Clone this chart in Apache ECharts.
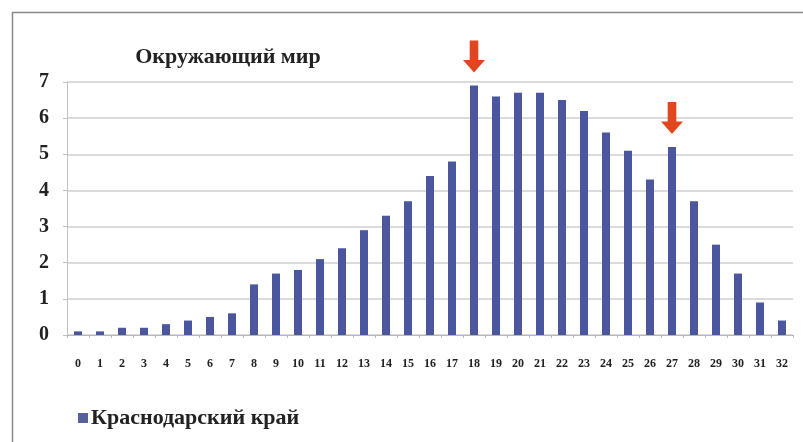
<!DOCTYPE html>
<html>
<head>
<meta charset="utf-8">
<script src="https://cdn.jsdelivr.net/npm/echarts@6/dist/echarts.min.js"></script>
<style>html,body{margin:0;padding:0;background:#fff}#c{width:803px;height:442px}</style>
</head>
<body>
<div id="c"></div>
<script>
var titleText = 'Окружающий мир';
var seriesName = 'Краснодарский край';
var categories = ['0','1','2','3','4','5','6','7','8','9','10','11','12','13','14','15','16','17','18','19','20','21','22','23','24','25','26','27','28','29','30','31','32'];
var values = [0.1,0.1,0.2,0.2,0.3,0.4,0.5,0.6,1.4,1.7,1.8,2.1,2.4,2.9,3.3,3.7,4.4,4.8,6.9,6.6,6.7,6.7,6.5,6.2,5.6,5.1,4.3,5.2,3.7,2.5,1.7,0.9,0.4];
var arrowIndices = [18, 27];
var yTicks = [0,1,2,3,4,5,6,7];

var FONT = '"Liberation Serif","Times New Roman",serif';
var chart = echarts.init(document.getElementById('c'), null, {renderer:'canvas'});
chart.setOption({
  backgroundColor: '#ffffff',
  animation: false,
  title: {
    text: titleText,
    left: 223, top: 41, textAlign: 'center',
    textStyle: {fontFamily: FONT, fontWeight: 'bold', fontSize: 22, color: '#222'}
  },
  legend: {
    left: 73, top: 402,
    itemWidth: 10, itemHeight: 10, itemGap: 4,
    icon: 'rect',
    data: [{name: seriesName, itemStyle: {color: '#56609a'}}],
    textStyle: {fontFamily: FONT, fontWeight: 'bold', fontSize: 22, color: '#222', padding: [0,0,0,-2]}
  },
  grid: {left: 67, right: 10, top: 82, bottom: 107},
  xAxis: {
    type: 'category',
    data: categories,
    axisLine: {lineStyle: {color: '#b8b8b8', width: 1}},
    axisTick: {show: true, length: 3, lineStyle: {color: '#b8b8b8'}},
    axisLabel: {interval: 0, margin: 23, fontFamily: FONT, fontWeight: 'bold', fontSize: 12, color: '#222'}
  },
  yAxis: {
    type: 'value',
    min: yTicks[0], max: yTicks[yTicks.length-1], interval: 1,
    axisLine: {show: true, lineStyle: {color: '#c0c0c0'}},
    axisTick: {show: true, length: 4, lineStyle: {color: '#c0c0c0'}},
    splitLine: {lineStyle: {color: '#cfcfcf', width: 1.5}},
    axisLabel: {margin: 18, fontFamily: FONT, fontWeight: 'bold', fontSize: 20, color: '#222'}
  },
  series: [{
    name: seriesName,
    type: 'bar',
    data: values,
    barWidth: 8,
    itemStyle: {color: '#4a569e'},
    markPoint: {
      symbol: 'path://M7,0 L16,0 L16,20 L23,20 L11.5,33 L0,20 L7,20 Z',
      symbolSize: [22, 32],
      symbolOffset: [0, -29],
      symbolKeepAspect: false,
      itemStyle: {color: '#e2461f'},
      label: {show: false},
      data: arrowIndices.map(function(i){ return {coord: [categories[i], values[i]]}; })
    }
  }],
  graphic: [
    {type: 'line', shape: {x1: 12, y1: 12.5, x2: 803, y2: 12.5}, style: {stroke: '#8a8a8a', lineWidth: 1.5}},
    {type: 'line', shape: {x1: 12.5, y1: 12, x2: 12.5, y2: 442}, style: {stroke: '#8a8a8a', lineWidth: 1.5}}
  ]
});
</script>
</body>
</html>
